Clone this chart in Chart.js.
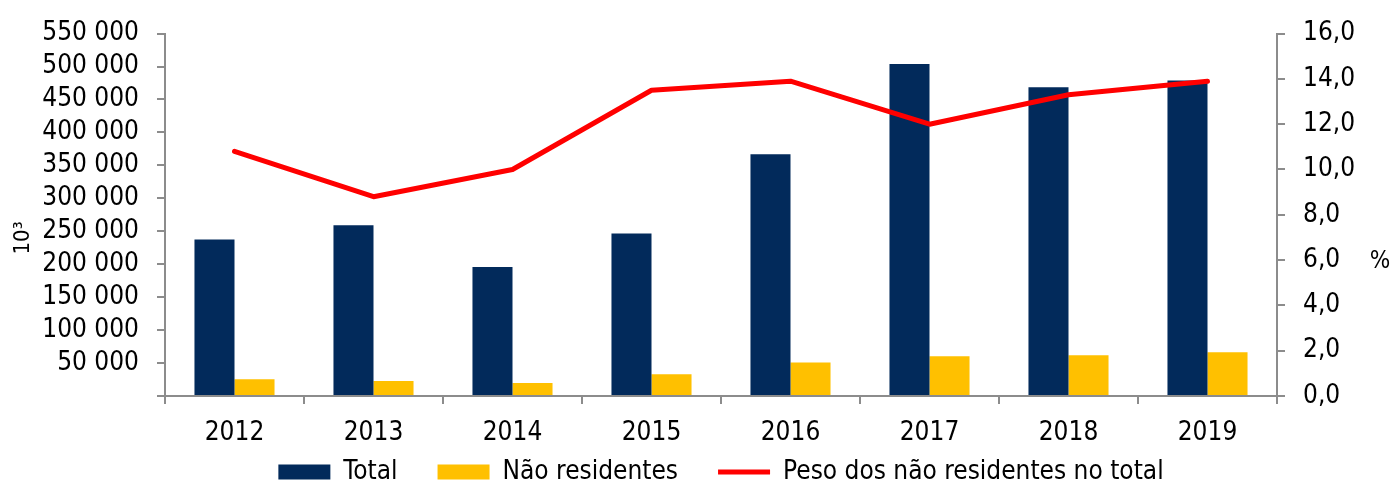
<!DOCTYPE html>
<html>
<head>
<meta charset="utf-8">
<script src="https://cdn.jsdelivr.net/npm/chart.js@4/dist/chart.umd.min.js"></script>
<style>
  html, body { margin: 0; padding: 0; background: #fff; }
  #wrap { width: 1394px; height: 483px; }
</style>
</head>
<body>
<div id="wrap"><canvas id="hospedes"></canvas></div>
<script>
const anos = ["2012", "2013", "2014", "2015", "2016", "2017", "2018", "2019"];
const total = [237600, 259200, 195900, 246600, 366800, 503700, 468600, 479000];
const naoResidentes = [25600, 22600, 19600, 33100, 50800, 60300, 61800, 66300];
const peso = [10.8, 8.8, 10.0, 13.5, 13.9, 12.0, 13.3, 13.9];

const FONT = "'DejaVu Sans Condensed', 'DejaVu Sans', sans-serif";
const SIZE = 26;
const AXIS = "#8c8c8c";

// titulos dos eixos: 10³ rodado na esquerda, % direito na direita
const axisTitles = {
    id: "axisTitles",
    afterDraw(chart) {
        const ctx = chart.ctx;
        ctx.save();
        ctx.fillStyle = "#000";
        ctx.font = "22px " + FONT;
        ctx.textAlign = "center";
        ctx.textBaseline = "middle";
        ctx.translate(23, 238);
        ctx.rotate(-Math.PI / 2);
        ctx.fillText("10³", 0, 0);
        ctx.restore();

        ctx.save();
        ctx.fillStyle = "#000";
        ctx.font = "24px " + FONT;
        ctx.textAlign = "center";
        ctx.textBaseline = "middle";
        ctx.fillText("%", 1380, 262);
        ctx.restore();
    }
};

// a legenda usa padding grande entre itens; sobe-a para junto do eixo
const legendLift = {
    id: "legendLift",
    afterLayout(chart) {
        const lg = chart.legend;
        lg.top -= 33;
        lg.bottom -= 33;
    }
};

const ctx = document.getElementById("hospedes").getContext("2d");

new Chart(ctx, {
    data: {
        labels: anos,
        datasets: [
            {
                type: "bar",
                label: "Total",
                data: total,
                backgroundColor: "#022a5b",
                borderWidth: 0,
                yAxisID: "y",
                order: 1,
                categoryPercentage: 0.576,
                barPercentage: 1,
            },
            {
                type: "bar",
                label: "Não residentes",
                data: naoResidentes,
                backgroundColor: "#ffc000",
                borderWidth: 0,
                yAxisID: "y",
                order: 1,
                categoryPercentage: 0.576,
                barPercentage: 1,
            },
            {
                type: "line",
                label: "Peso dos não residentes no total",
                data: peso,
                borderColor: "#ff0000",
                backgroundColor: "#ff0000",
                borderWidth: 5,
                borderCapStyle: "round",
                borderJoinStyle: "round",
                pointRadius: 0,
                tension: 0,
                fill: false,
                yAxisID: "y1",
                order: 0,
            },
        ],
    },
    options: {
        responsive: true,
        maintainAspectRatio: false,
        animation: false,
        layout: { padding: { top: 31, right: 0, bottom: -45, left: 0 } },
        plugins: {
            tooltip: { enabled: false },
            legend: {
                position: "bottom",
                fullSize: false,
                labels: {
                    color: "#000",
                    font: { family: FONT, size: SIZE },
                    usePointStyle: true,
                    pointStyleWidth: 52,
                    boxHeight: 15,
                    padding: 40,
                    sort: (a, b) => a.datasetIndex - b.datasetIndex,
                    generateLabels(chart) {
                        const items = Chart.defaults.plugins.legend.labels.generateLabels(chart);
                        items.forEach(it => {
                            const ds = chart.data.datasets[it.datasetIndex];
                            it.pointStyle = ds.type === "line" ? "line" : "rect";
                        });
                        return items;
                    },
                },
            },
        },
        scales: {
            x: {
                grid: { offset: true, drawOnChartArea: false, color: AXIS, lineWidth: 2, tickLength: 8 },
                border: { color: AXIS, width: 2 },
                ticks: { color: "#000", font: { family: FONT, size: SIZE }, padding: 14 },
                afterFit: s => { s.height = 56; },
            },
            y: {
                position: "left",
                min: 0,
                max: 550000,
                grid: { drawOnChartArea: false, color: AXIS, lineWidth: 2, tickLength: 8 },
                border: { color: AXIS, width: 2 },
                ticks: {
                    stepSize: 50000,
                    autoSkip: false,
                    color: "#000",
                    font: { family: FONT, size: SIZE },
                    padding: 18,
                    callback: v => v === 0 ? "" : v.toLocaleString("en-US").replace(/,/g, " "),
                },
                afterFit: s => { s.width = 165; },
            },
            y1: {
                position: "right",
                min: 0,
                max: 16,
                grid: { drawOnChartArea: false, color: AXIS, lineWidth: 2, tickLength: 8 },
                border: { color: AXIS, width: 2 },
                ticks: {
                    stepSize: 2,
                    autoSkip: false,
                    color: "#000",
                    font: { family: FONT, size: SIZE },
                    padding: 18,
                    callback: v => v.toFixed(1).replace(".", ","),
                },
                afterFit: s => { s.width = 117; },
            },
        },
    },
    plugins: [axisTitles, legendLift],
});
</script>
</body>
</html>
